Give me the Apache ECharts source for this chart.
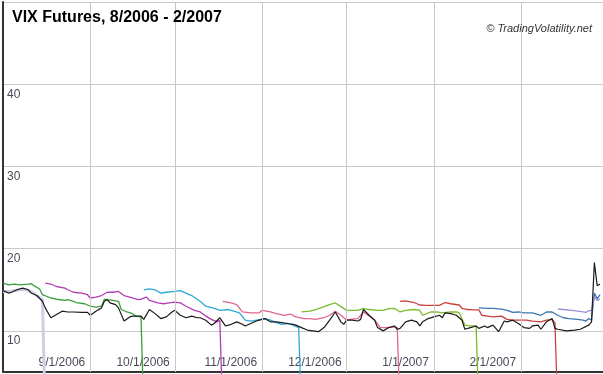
<!DOCTYPE html>
<html>
<head>
<meta charset="utf-8">
<script src="https://cdn.jsdelivr.net/npm/echarts@6/dist/echarts.min.js"></script>
<style>
html,body{margin:0;padding:0;background:#fff;}
#chart{width:603px;height:374px;}
</style>
</head>
<body>
<div id="chart"></div>
<script>
// ---- data ----
const titleText = 'VIX Futures, 8/2006 - 2/2007';
const creditText = '\u00A9 TradingVolatility.net';
const xMin = '2006-08-01';
const xMax = '2007-03-02';
const monthTicks = ['2006-09-01','2006-10-01','2006-11-01','2006-12-01','2007-01-01','2007-02-01'];
const yTickLabels = [10, 20, 30, 40];

const vix = [
 ['2006-08-01',14.9],['2006-08-03',14.6],['2006-08-04',14.7],['2006-08-06',15.0],['2006-08-08',15.2],
 ['2006-08-10',15.0],['2006-08-11',14.6],['2006-08-13',14.3],['2006-08-15',13.6],['2006-08-16',12.8],
 ['2006-08-18',11.6],['2006-08-20',12.0],['2006-08-22',12.4],['2006-08-24',12.3],['2006-08-26',12.3],
 ['2006-08-29',12.25],['2006-08-31',12.25],['2006-09-01',11.9],['2006-09-03',12.4],['2006-09-05',12.8],
 ['2006-09-06',13.6],['2006-09-07',13.8],['2006-09-08',13.4],['2006-09-10',13.2],['2006-09-11',12.8],
 ['2006-09-13',11.2],['2006-09-15',11.7],['2006-09-16',11.8],['2006-09-19',11.8],['2006-09-20',11.4],
 ['2006-09-22',12.6],['2006-09-24',12.1],['2006-09-26',11.5],['2006-09-28',11.7],['2006-09-30',12.3],
 ['2006-10-01',12.5],['2006-10-03',11.9],['2006-10-05',11.6],['2006-10-07',11.8],['2006-10-09',11.6],
 ['2006-10-10',11.6],['2006-10-12',11.3],['2006-10-14',10.7],['2006-10-15',10.9],['2006-10-17',11.6],
 ['2006-10-18',11.1],['2006-10-19',10.6],['2006-10-21',10.8],['2006-10-23',11.1],['2006-10-25',10.8],
 ['2006-10-26',10.6],['2006-10-28',10.9],['2006-10-30',11.2],['2006-10-31',11.3],['2006-11-02',11.5],
 ['2006-11-03',11.3],['2006-11-04',11.1],['2006-11-06',11.1],['2006-11-08',11.0],['2006-11-10',10.9],
 ['2006-11-12',10.8],['2006-11-13',10.7],['2006-11-15',10.4],['2006-11-17',10.1],['2006-11-19',10.0],
 ['2006-11-21',9.9],['2006-11-23',10.4],['2006-11-25',11.3],['2006-11-27',12.3],['2006-11-29',11.1],
 ['2006-11-30',10.8],['2006-12-01',11.3],['2006-12-03',11.3],['2006-12-05',11.2],['2006-12-06',11.4],
 ['2006-12-07',12.6],['2006-12-09',11.9],['2006-12-11',11.3],['2006-12-12',10.4],['2006-12-14',10.0],
 ['2006-12-16',10.4],['2006-12-18',10.6],['2006-12-19',10.2],['2006-12-20',10.3],['2006-12-21',10.7],
 ['2006-12-22',11.1],['2006-12-24',11.3],['2006-12-26',11.1],['2006-12-27',10.6],['2006-12-28',11.1],
 ['2006-12-30',11.5],['2007-01-01',11.7],['2007-01-03',11.9],['2007-01-04',11.6],['2007-01-05',12.2],
 ['2007-01-07',12.1],['2007-01-09',11.9],['2007-01-11',11.3],['2007-01-12',10.2],['2007-01-14',10.4],
 ['2007-01-16',10.6],['2007-01-17',10.3],['2007-01-19',10.6],['2007-01-20',10.4],['2007-01-22',10.7],
 ['2007-01-24',9.9],['2007-01-26',11.2],['2007-01-27',11.1],['2007-01-29',11.3],['2007-01-31',10.9],
 ['2007-02-02',10.4],['2007-02-04',10.3],['2007-02-05',10.6],['2007-02-07',10.7],['2007-02-08',10.2],
 ['2007-02-10',11.1],['2007-02-12',11.5],['2007-02-13',10.3],['2007-02-14',10.2],['2007-02-17',10.0],
 ['2007-02-20',10.1],['2007-02-22',10.2],['2007-02-25',10.7],['2007-02-26',11.1],['2007-02-27',18.3],
 ['2007-02-28',15.5],['2007-03-01',15.7]
];
const aug06 = [
 ['2006-08-01',14.8],['2006-08-03',14.8],['2006-08-05',14.9],['2006-08-07',15.0],['2006-08-09',15.0],
 ['2006-08-11',14.8],['2006-08-13',14.3],['2006-08-15',13.8],['2006-08-16',0]
];
const sep06 = [
 ['2006-08-01',15.8],['2006-08-03',15.6],['2006-08-05',15.7],['2006-08-07',15.6],['2006-08-10',15.7],
 ['2006-08-11',15.75],['2006-08-12',15.5],['2006-08-14',15.1],['2006-08-15',14.4],['2006-08-18',14.0],
 ['2006-08-20',13.85],['2006-08-23',13.7],['2006-08-24',13.8],['2006-08-26',13.6],['2006-08-27',13.45],
 ['2006-08-30',13.3],['2006-09-01',13.0],['2006-09-03',12.9],['2006-09-04',12.95],['2006-09-05',13.0],
 ['2006-09-06',13.85],['2006-09-07',13.8],['2006-09-09',13.7],['2006-09-11',13.6],['2006-09-12',12.6],
 ['2006-09-14',12.3],['2006-09-16',12.1],['2006-09-17',11.8],['2006-09-19',11.7],['2006-09-20',0]
];
const oct06 = [
 ['2006-08-16',15.8],['2006-08-18',15.7],['2006-08-20',15.4],['2006-08-23',15.2],['2006-08-24',15.0],
 ['2006-08-26',14.7],['2006-08-29',14.6],['2006-08-31',14.4],['2006-09-01',14.0],['2006-09-03',14.1],
 ['2006-09-05',14.3],['2006-09-07',14.7],['2006-09-09',14.7],['2006-09-11',14.8],['2006-09-13',14.3],
 ['2006-09-15',14.1],['2006-09-18',13.8],['2006-09-19',13.85],['2006-09-21',14.1],['2006-09-22',13.7],
 ['2006-09-25',13.4],['2006-09-27',13.3],['2006-09-29',13.4],['2006-10-01',13.5],['2006-10-03',13.4],
 ['2006-10-05',13.0],['2006-10-08',12.5],['2006-10-10',12.3],['2006-10-12',11.8],['2006-10-14',11.4],
 ['2006-10-16',11.1],['2006-10-17',11.3],['2006-10-18',0]
];
const nov06 = [
 ['2006-09-20',15.0],['2006-09-22',15.1],['2006-09-24',15.0],['2006-09-26',14.6],['2006-09-28',14.7],
 ['2006-10-01',14.8],['2006-10-03',14.9],['2006-10-05',14.6],['2006-10-07',14.3],['2006-10-10',13.6],
 ['2006-10-12',13.0],['2006-10-15',12.75],['2006-10-17',12.5],['2006-10-20',12.6],['2006-10-22',12.4],
 ['2006-10-24',12.2],['2006-10-26',11.3],['2006-10-28',11.2],['2006-10-30',11.3],['2006-11-02',11.5],
 ['2006-11-04',11.3],['2006-11-06',11.0],['2006-11-08',10.8],['2006-11-10',10.9],['2006-11-12',10.7],
 ['2006-11-14',10.4],['2006-11-15',0]
];
const dec06 = [
 ['2006-10-18',13.6],['2006-10-21',13.4],['2006-10-23',13.2],['2006-10-25',12.3],['2006-10-28',12.2],
 ['2006-10-31',12.2],['2006-11-01',12.5],['2006-11-04',12.3],['2006-11-06',12.1],['2006-11-09',11.9],
 ['2006-11-11',12.05],['2006-11-13',11.7],['2006-11-16',11.5],['2006-11-18',11.5],['2006-11-20',11.4],
 ['2006-11-23',11.6],['2006-11-25',11.9],['2006-11-27',12.4],['2006-11-29',11.9],['2006-12-01',11.3],
 ['2006-12-02',11.4],['2006-12-05',11.5],['2006-12-07',12.3],['2006-12-09',11.8],['2006-12-11',11.3],
 ['2006-12-13',10.4],['2006-12-15',10.4],['2006-12-18',10.5],['2006-12-19',10.4],['2006-12-20',0]
];
const jan07 = [
 ['2006-11-15',12.3],['2006-11-18',12.4],['2006-11-20',12.6],['2006-11-23',12.95],['2006-11-25',13.2],
 ['2006-11-27',13.4],['2006-11-29',12.95],['2006-12-01',12.5],['2006-12-02',12.5],['2006-12-05',12.5],
 ['2006-12-07',12.75],['2006-12-09',12.6],['2006-12-12',12.5],['2006-12-14',12.5],['2006-12-16',12.7],
 ['2006-12-18',12.75],['2006-12-20',12.3],['2006-12-22',12.5],['2006-12-25',12.6],['2006-12-27',12.5],
 ['2006-12-28',11.9],['2006-12-31',12.3],['2007-01-02',12.3],['2007-01-04',12.2],['2007-01-07',12.3],
 ['2007-01-09',12.3],['2007-01-10',12.2],['2007-01-12',10.7],['2007-01-14',10.6],['2007-01-16',10.6],
 ['2007-01-17',0]
];
const feb07 = [
 ['2006-12-20',13.6],['2006-12-22',13.65],['2006-12-25',13.45],['2006-12-27',13.15],['2006-12-29',13.1],
 ['2007-01-01',13.1],['2007-01-03',13.1],['2007-01-05',13.45],['2007-01-07',13.3],['2007-01-10',13.15],
 ['2007-01-11',12.75],['2007-01-13',12.6],['2007-01-15',12.55],['2007-01-17',12.55],['2007-01-18',11.9],
 ['2007-01-20',11.8],['2007-01-22',11.7],['2007-01-25',11.8],['2007-01-27',11.4],['2007-01-29',11.3],
 ['2007-02-01',11.3],['2007-02-03',11.3],['2007-02-05',11.2],['2007-02-08',11.1],['2007-02-10',11.3],
 ['2007-02-12',11.4],['2007-02-13',11.0],['2007-02-14',0]
];
const mar07 = [
 ['2007-01-17',12.8],['2007-01-20',12.75],['2007-01-22',12.75],['2007-01-25',12.65],['2007-01-27',12.5],
 ['2007-01-29',12.25],['2007-01-31',12.3],['2007-02-02',12.2],['2007-02-05',12.2],['2007-02-08',11.9],
 ['2007-02-10',12.3],['2007-02-12',12.3],['2007-02-14',11.9],['2007-02-16',11.6],['2007-02-18',11.5],
 ['2007-02-21',11.4],['2007-02-23',11.3],['2007-02-24',11.2],['2007-02-25',11.5],['2007-02-26',11.3],
 ['2007-02-27',14.6],['2007-02-28',13.9],['2007-03-01',14.4]
];
const apr07 = [
 ['2007-02-14',12.65],['2007-02-16',12.6],['2007-02-19',12.5],['2007-02-21',12.4],['2007-02-23',12.3],
 ['2007-02-24',12.25],['2007-02-25',12.45],['2007-02-26',12.5],['2007-02-27',14.2],['2007-02-28',13.7],
 ['2007-03-01',13.9]
];

// ---- chart ----
const FONT = "'Liberation Sans', Arial, sans-serif";
function lineSeries(name, data, color, width, z) {
  return {
    name: name, type: 'line', data: data, showSymbol: false, symbol: 'none',
    clip: false, z: z || 3, silent: true,
    lineStyle: { color: color, width: width || 1.3 }
  };
}
function parseDay(s) {
  const p = s.split('-').map(Number);
  return new Date(p[0], p[1] - 1, p[2]).getTime();
}

const chart = echarts.init(document.getElementById('chart'), null, { renderer: 'canvas' });
chart.setOption({
  animation: false,
  backgroundColor: '#ffffff',
  title: [
    { text: titleText, left: 12, top: 10, padding: 0,
      textStyle: { fontFamily: FONT, fontSize: 16, fontWeight: 'bold', color: '#000' } },
    { text: creditText, right: 11, top: 23, padding: 0,
      textStyle: { fontFamily: FONT, fontSize: 11, fontStyle: 'italic', fontWeight: 'normal', color: '#333' } }
  ],
  grid: { left: 3, right: 0, top: 2, bottom: 2, containLabel: false },
  xAxis: {
    type: 'time', min: parseDay(xMin), max: parseDay(xMax), splitNumber: 7,
    axisLine: { show: true, lineStyle: { color: '#333', width: 2 } },
    axisTick: { show: false },
    splitLine: { show: false },
    axisLabel: {
      inside: true, align: 'right', verticalAlign: 'bottom', margin: 3, padding: [0, 5, 0, 0],
      color: '#4a4a5a', fontSize: 12, fontFamily: FONT, hideOverlap: false,
      formatter: function (v) {
        const d = new Date(v);
        const key = d.getFullYear() + '-' + String(d.getMonth() + 1).padStart(2, '0') + '-' + String(d.getDate()).padStart(2, '0');
        if (monthTicks.indexOf(key) < 0) return '';
        return (d.getMonth() + 1) + '/' + d.getDate() + '/' + d.getFullYear();
      }
    }
  },
  yAxis: {
    type: 'value', min: 5, max: 50, interval: 5,
    axisLine: { show: true, lineStyle: { color: '#333', width: 2 } },
    axisTick: { show: false },
    splitLine: { show: true, lineStyle: { color: ['rgba(0,0,0,0)', '#c8c8c8'], width: 1 } },
    axisLabel: {
      inside: true, align: 'left', verticalAlign: 'top', margin: 4, padding: [4, 0, 0, 0],
      color: '#4a4a5a', fontSize: 12, fontFamily: FONT,
      formatter: function (v) { return yTickLabels.indexOf(v) >= 0 ? String(v) : ''; }
    }
  },
  series: [
    { type: 'line', data: [], z: 1, silent: true,
      markLine: { symbol: 'none', silent: true, animation: false, label: { show: false },
        lineStyle: { color: '#c8c8c8', width: 1, type: 'solid' },
        data: monthTicks.map(function (t) { return { xAxis: parseDay(t) }; }) } },
    lineSeries('Aug 2006', aug06, '#d3cce6', 3, 2),
    lineSeries('Sep 2006', sep06, '#3a9d3a'),
    lineSeries('Oct 2006', oct06, '#b23db4'),
    lineSeries('Nov 2006', nov06, '#2ea8d6'),
    lineSeries('Dec 2006', dec06, '#e0668c'),
    lineSeries('Jan 2007', jan07, '#7dbb2c'),
    lineSeries('Feb 2007', feb07, '#c9403e'),
    lineSeries('Mar 2007', mar07, '#3d76b0'),
    lineSeries('Apr 2007', apr07, '#9b8fd6'),
    lineSeries('VIX', vix, '#1a1a1a', 1.2, 4)
  ]
});
</script>
</body>
</html>
